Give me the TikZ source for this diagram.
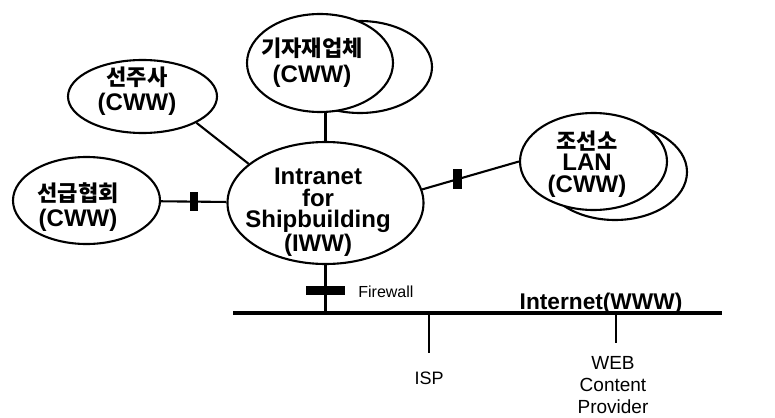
\documentclass[tikz,border=0pt]{standalone}
\usepackage{fontspec}
\setmainfont{Liberation Sans}
\newfontfamily\kr{Noto Sans CJK KR}[Scale=0.92]
\usetikzlibrary{shapes.geometric,positioning}

\begin{document}
\begin{tikzpicture}[x=1pt,y=-1pt,line width=2.1pt,
  cww/.style={ellipse,draw,fill=white,inner sep=0pt},
  lbl/.style={align=center,font=\fontsize{24}{25}\selectfont\bfseries},
  fw/.style={rectangle,fill=black,draw=none,inner sep=0pt}]
\useasboundingbox (0,0) rectangle (775,417);
\node[cww,minimum width=196pt,minimum height=122pt] (intra) at (325.5,203) {};
\node[lbl,font=\fontsize{24}{21.5}\selectfont\bfseries] (intratxt) at (318,212) {Intranet\\for\\Shipbuilding\\(IWW)};
\node[cww,minimum width=149pt,minimum height=73pt] (sj) at (142.5,96.5) {};
\node[lbl] (sjtxt) at (137,91.5) {{\kr 선주사}\\(CWW)};
\node[cww,minimum width=147pt,minimum height=87pt] (sg) at (86.5,200.5) {};
\node[lbl] (sgtxt) at (78,207) {{\kr 선급협회}\\(CWW)};
\node[cww,minimum width=144pt,minimum height=92pt] (gjback) at (360,67) {};
\node[cww,minimum width=146pt,minimum height=98pt] (gj) at (320,63) {};
\node[lbl,font=\fontsize{24}{26}\selectfont\bfseries] (gjtxt) at (312,63) {{\kr 기자재업체}\\(CWW)};
\node[cww,minimum width=144pt,minimum height=96pt] (jsback) at (615,172) {};
\node[cww,minimum width=147pt,minimum height=97pt] (js) at (593.5,161.5) {};
\node[lbl,font=\fontsize{24}{21.5}\selectfont\bfseries] (jstxt) at (587,164) {{\kr 조선소}\\LAN\\(CWW)};
\coordinate (busL) at (233,313);
\coordinate (busR) at (722,313);
\draw (sj.-26) -- (intra.153);
\draw (intra.north) -- (intra.north |- gj.south);
\draw (sg) -- node[fw,minimum width=8pt,minimum height=19pt] (fwsg) {} (intra);
\draw (intra.8) -- node[fw,pos=0.36,minimum width=9pt,minimum height=20pt] (fwjs) {} (js.west);
\draw (intra.south) -- node[fw,pos=0.54,minimum width=39pt,minimum height=9pt] (fwnet) {} (intra.south |- busL);
\node[font=\fontsize{16}{16}\selectfont,anchor=west] (fwtxt) at (354,292) {Firewall};
\draw[line width=3.5pt] (busL) -- (busR);
\node[font=\fontsize{22.7}{24}\selectfont\bfseries,anchor=base] (inet) at (601,309) {Internet(WWW)};
\coordinate (ispend) at (429,353);
\draw (ispend |- busL) -- (ispend);
\node[font=\fontsize{18}{18}\selectfont] (isp) at (429,378) {ISP};
\coordinate (wcpend) at (616,343);
\draw (wcpend |- busL) -- (wcpend);
\node[align=center,font=\fontsize{19}{22}\selectfont] (wcp) at (613,385) {WEB\\Content\\Provider};
\end{tikzpicture}
\end{document}
